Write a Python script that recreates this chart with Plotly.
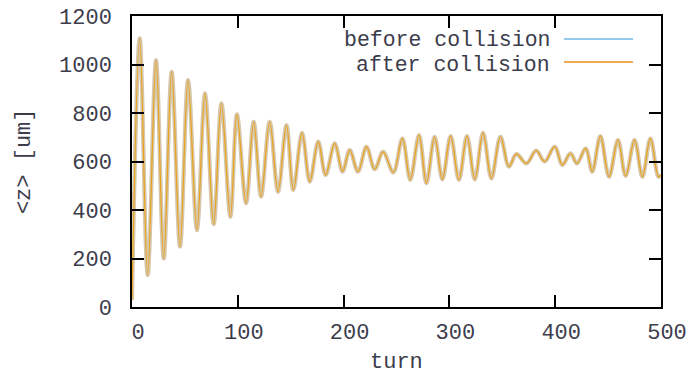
import plotly.graph_objects as go

# Extrema of <z> (turn, um)
turn = [0, 7.3, 14.8, 22.7, 30, 37.5, 45.4, 53, 61.4, 69, 77.2, 84.5, 93, 99.2,
        107.8, 115, 122, 130.1, 138, 146, 152.5, 160.7, 168, 176, 183, 191.6,
        199, 205.8, 213.6, 221.6, 229.4, 237.3, 247, 255.6, 263, 271.3, 278.3,
        286, 293.4, 301.2, 309, 316.6, 324, 331.8, 339.7, 348.2, 356.3, 363.3,
        372.8, 382, 390, 399.5, 406.8, 414.4, 420.6, 428.8, 435, 442.7, 450.9,
        459.3, 466.6, 475, 482.4, 490, 497.6, 500]
z_after = [30, 1108, 132, 1018, 200, 970, 249, 936, 317, 881, 341, 840, 372, 795,
           428, 764, 455, 764, 475, 750, 482, 719, 517, 682, 544, 675,
           558, 647, 558, 661, 568, 640, 555, 695, 524, 709, 510,
           702, 526, 705, 524, 705, 526, 719, 530, 702, 579, 631,
           592, 645, 600, 661, 586, 634, 592, 654, 558, 705, 537,
           689, 540, 689, 537, 695, 537, 545]
z_before = list(z_after)

series_names = ["before collision", "after collision"]
x_ticks = [0, 100, 200, 300, 400, 500]
y_ticks = [0, 200, 400, 600, 800, 1000, 1200]

BLUE = "#96c8ec"
ORANGE = "#e9a31a"
TXT = "#3c3c4c"
FONT = "Liberation Mono"
FS = 22

fig = go.Figure()
fig.add_trace(go.Scatter(x=turn, y=z_before, mode="lines", name=series_names[0],
                         line=dict(color="#cfd6dc", width=4, shape="spline", smoothing=1.0),
                         showlegend=False))
fig.add_trace(go.Scatter(x=turn, y=z_after, mode="lines", name=series_names[1] + " halo",
                         line=dict(color="rgba(225,170,80,0.35)", width=4, shape="spline", smoothing=1.0),
                         showlegend=False, hoverinfo="skip"))
fig.add_trace(go.Scatter(x=turn, y=z_after, mode="lines", name=series_names[1],
                         line=dict(color=ORANGE, width=1.2, shape="spline", smoothing=1.0),
                         showlegend=False))

axis_common = dict(showgrid=False, zeroline=False, showline=True, linecolor="black",
                   linewidth=1.5, ticks="inside", ticklen=12, tickwidth=1.5,
                   tickcolor="black", mirror="ticks", automargin=False,
                   tickfont=dict(family=FONT, size=FS, color=TXT))

fig.update_xaxes(range=[0, 500], tickvals=x_ticks, ticktext=[str(v) for v in x_ticks],
                 ticklabelshift=6, ticklabelstandoff=4, **axis_common)
fig.update_yaxes(range=[0, 1200], tickvals=y_ticks, ticktext=[str(v) for v in y_ticks],
                 ticklabelstandoff=14, **axis_common)

# gnuplot-style key: text right-aligned, line sample to the right
key_text_y = [0.9175, 0.8333]
key_line_y = [0.9210, 0.8420]
key_colors = [BLUE, "#efac56"]
annotations = []
shapes = []
for name, ty, ly, col in zip(series_names, key_text_y, key_line_y, key_colors):
    annotations.append(dict(x=0.7915, y=ty, xref="paper", yref="paper", text=name,
                            showarrow=False, xanchor="right", yanchor="middle", borderpad=0,
                            font=dict(family=FONT, size=21.5, color=TXT)))
    shapes.append(dict(type="line", xref="paper", yref="paper", x0=0.8166, x1=0.947,
                       y0=ly, y1=ly, line=dict(color=col, width=2)))

annotations.append(dict(x=0.5, y=-0.19, xref="paper", yref="paper", text="turn",
                        showarrow=False, xanchor="center", yanchor="middle",
                        font=dict(family=FONT, size=FS, color=TXT)))
annotations.append(dict(x=-0.203, y=0.5, xref="paper", yref="paper", text="&lt;z&gt; [um]",
                        showarrow=False, xanchor="center", yanchor="middle", textangle=-90,
                        font=dict(family=FONT, size=FS, color=TXT)))

fig.update_layout(width=689, height=375, margin=dict(l=132, r=28, t=16, b=68),
                  paper_bgcolor="white", plot_bgcolor="white",
                  showlegend=False, annotations=annotations, shapes=shapes)

fig.write_html("out.html")
